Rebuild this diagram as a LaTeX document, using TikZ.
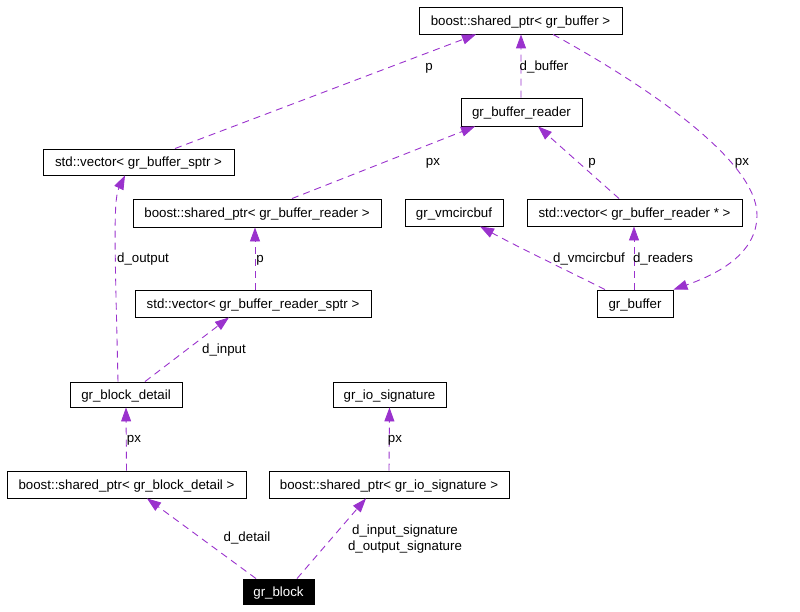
\documentclass[tikz,border=0pt]{standalone}
\usepackage{fontspec}
\setmainfont{Liberation Sans}
\usetikzlibrary{arrows.meta,calc}
\definecolor{edgec}{HTML}{9A32CD}
\begin{document}
\begin{tikzpicture}[x=1bp,y=-1bp,
  txt/.style={font=\fontsize{13.3bp}{15.6bp}\selectfont},
  box/.style={txt,draw=black,line width=0.9bp,rectangle,inner sep=0pt,align=center,text height=9.6bp,text depth=0pt},
  blk/.style={box,fill=black,text=white},
  lbl/.style={txt,inner sep=0pt,align=center,anchor=base},
  edge/.style={draw=edgec,line width=0.9bp,dash pattern=on 7bp off 5bp,
    -{Triangle[length=14bp,width=10bp,fill=edgec,sep=0pt]}}]
\useasboundingbox (0,0) rectangle (800,612);
% nodes
\node[box,minimum width=203bp,minimum height=27bp] (spbuf) at (520.5,20.5) {boost::shared\_ptr< gr\_buffer >};
\node[box,minimum width=121bp,minimum height=28bp] (reader) at (521.5,112) {gr\_buffer\_reader};
\node[box,minimum width=191bp,minimum height=26bp] (vecsptr) at (138.5,162) {std::vector< gr\_buffer\_sptr >};
\node[box,minimum width=248bp,minimum height=28bp] (spreader) at (257,213) {boost::shared\_ptr< gr\_buffer\_reader >};
\node[box,minimum width=236bp,minimum height=27bp] (vecrsptr) at (253,303.5) {std::vector< gr\_buffer\_reader\_sptr >};
\node[box,minimum width=98bp,minimum height=27bp] (vmcirc) at (454,212.5) {gr\_vmcircbuf};
\node[box,minimum width=215bp,minimum height=27bp] (vecrptr) at (634.5,212.5) {std::vector< gr\_buffer\_reader * >};
\node[box,minimum width=76bp,minimum height=27bp] (buffer) at (635,303.5) {gr\_buffer};
\node[box,minimum width=112bp,minimum height=25bp] (detail) at (126,394.5) {gr\_block\_detail};
\node[box,minimum width=113bp,minimum height=25bp] (iosig) at (389.5,394.5) {gr\_io\_signature};
\node[box,minimum width=239bp,minimum height=27bp] (spdetail) at (126.5,484.5) {boost::shared\_ptr< gr\_block\_detail >};
\node[box,minimum width=240bp,minimum height=27bp] (spiosig) at (389,484.5) {boost::shared\_ptr< gr\_io\_signature >};
\node[blk,minimum width=71bp,minimum height=25bp] (block) at (278.5,591.5) {gr\_block};
% edges
\draw[edge] ($(vecsptr.north)+(36.5,0)$) -- ($(spbuf.south)+(-44.5,0)$);
\draw[edge] ($(reader.north)+(-0.5,0)$) -- ($(spbuf.south)+(0.5,0)$);
\draw[edge] ($(spbuf.south)+(32.5,0)$) .. controls (645,85) and (757,160) .. (757,215)
  .. controls (757,255) and (715,275) .. (buffer.north east);
\draw[edge] ($(spreader.north)+(35,0)$) -- ($(reader.south)+(-46.5,0)$);
\draw[edge] ($(vecrptr.north)+(-15.5,0)$) -- ($(reader.south)+(16.5,0)$);
\draw[edge] ($(vecrsptr.north)+(2,0)$) -- ($(spreader.south)+(-2,0)$);
\draw[edge] ($(buffer.north)+(-30,0)$) .. controls (570,272) and (520,248) .. ($(vmcirc.south)+(26,0)$);
\draw[edge] ($(buffer.north)+(-1,0)$) -- ($(vecrptr.south)+(-0.5,0)$);
\draw[edge] ($(detail.north)+(-8,0)$) .. controls (115,250) and (113,200) .. ($(vecsptr.south)+(-13.5,0)$);
\draw[edge] ($(detail.north)+(19,0)$) -- ($(vecrsptr.south)+(-24,0)$);
\draw[edge] (spdetail.north) -- (detail.south);
\draw[edge] (spiosig.north) -- (iosig.south);
\draw[edge] ($(block.north)+(-22.5,0)$) -- ($(spdetail.south)+(20.5,0)$);
\draw[edge] ($(block.north)+(18.5,0)$) -- ($(spiosig.south)+(-23,0)$);
% labels
\node[lbl] (l1) at (429,71) {p};
\node[lbl] (l2) at (544,71) {d\_buffer};
\node[lbl] (l3) at (742,166) {px};
\node[lbl] (l4) at (433,166) {px};
\node[lbl] (l5) at (592,166) {p};
\node[lbl] (l6) at (143,262) {d\_output};
\node[lbl] (l7) at (260,262) {p};
\node[lbl] (l8) at (224,353) {d\_input};
\node[lbl] (l9) at (589,262) {d\_vmcircbuf};
\node[lbl] (l10) at (663,262) {d\_readers};
\node[lbl] (l11) at (134,442) {px};
\node[lbl] (l12) at (395,442) {px};
\node[lbl] (l13) at (247,541) {d\_detail};
\node[lbl] (l14) at (405,550) {d\_input\_signature\\d\_output\_signature};
\end{tikzpicture}
\end{document}
